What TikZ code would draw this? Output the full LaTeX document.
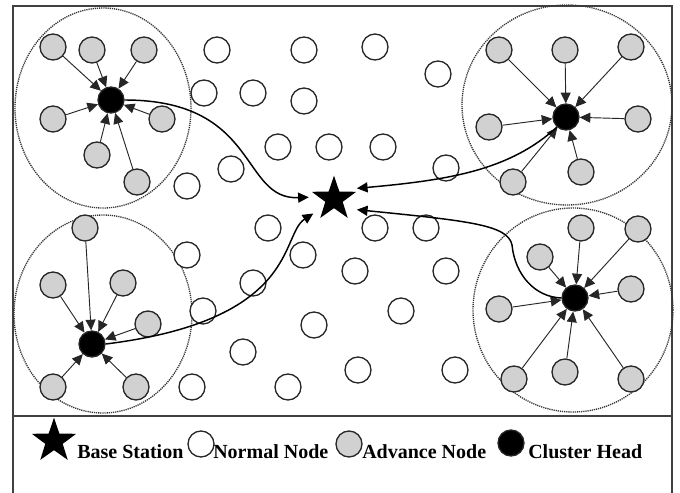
\documentclass[tikz,border=0pt]{standalone}
\usepackage{fontspec}
\setmainfont{Liberation Serif}
\usetikzlibrary{arrows.meta,shapes.geometric}
\begin{document}
\begin{tikzpicture}[x=0.75pt,y=-0.75pt,>={Triangle[length=8pt,width=7.5pt]},
  sensor/.style={circle,draw=black!85,line width=1pt,minimum size=19.5pt,inner sep=0},
  normal/.style={sensor,fill=white},
  advance/.style={sensor,fill=black!18},
  head/.style={sensor,fill=black},
  bsstar/.style={star,star points=5,star point ratio=2.55,fill=black,minimum size=35pt,inner sep=0},
  cluster/.style={dash pattern=on 0.9pt off 0.7pt,line width=1pt,black!80},
  spoke/.style={->,line width=0.7pt,black!85},
  link/.style={->,line width=1.1pt},
  legend/.style={anchor=base west,inner sep=0,font=\bfseries\fontsize{15}{18}\selectfont}]
  \useasboundingbox (0,0) rectangle (680,492);
  \draw[line width=1.2pt,black!75] (13,6) rectangle (672,500);
  \draw[line width=1.2pt,black!75] (13,416) -- (672,416);
  \draw[cluster] (103,108) ellipse [x radius=88,y radius=100];
  \draw[cluster] (567,105) ellipse [x radius=105,y radius=100];
  \draw[cluster] (103,314) ellipse [x radius=89,y radius=99];
  \draw[cluster] (573,310) ellipse [x radius=100,y radius=102];
  \foreach \x/\y [count=\i] in {217/50,304/50,375/47,438/74,204/93,253/93,304/101,278/147,
      329/147,383/147,231/169,187/186,446/168,268/228,375/228,426/228,187/255,303/255,
      355/271,446/271,253/283,203/311,401/311,314/325,243/352,358/370,455/370,192/387,288/387}
    \node[normal] (n\i) at (\x,\y) {};
  \node[circle,minimum size=37.5pt,inner sep=0] (bs) at (334,199) {};
  \node[bsstar] (bsicon) at (bs) {};
  \node[head] (ch1) at (111,100) {};
  \node[head] (ch2) at (566,117) {};
  \node[head] (ch3) at (92,344) {};
  \node[head] (ch4) at (575,298) {};
  \foreach \x/\y [count=\i] in {53/47,92/50,144/50,53/119,162/119,97/155,137/182}
    {\node[advance] (a1\i) at (\x,\y) {}; \draw[spoke] (a1\i) -- (ch1);}
  \foreach \x/\y [count=\i] in {499/50,565/50,631/47,489/127,638/119,513/182,581/172}
    {\node[advance] (a2\i) at (\x,\y) {}; \draw[spoke] (a2\i) -- (ch2);}
  \foreach \x/\y [count=\i] in {85/228,53/285,123/283,148/324,53/387,136/387}
    {\node[advance] (a3\i) at (\x,\y) {}; \draw[spoke] (a3\i) -- (ch3);}
  \foreach \x/\y [count=\i] in {581/228,638/229,540/257,631/289,499/309,514/379,565/372,631/379}
    {\node[advance] (a4\i) at (\x,\y) {}; \draw[spoke] (a4\i) -- (ch4);}
  \draw[link] (ch1.east) .. controls (260,100) and (240,200) .. (bs.176);
  \draw[link] (ch3.east) .. controls (300,320) and (280,235) .. (bs.215);
  \draw[link] (ch2.228) .. controls (510,170) and (450,180) .. (bs.25);
  \draw[link] (ch4.west) .. controls (535,297) and (515,275) .. (512,245)
    .. controls (508,225) and (470,221) .. (bs.335);
  \node[bsstar] (keybs) at (54,441) {};
  \node[legend] (keybstext) at (77,458) {Base Station};
  \node[normal] (keynormal) at (201,444) {};
  \node[legend] (keynormaltext) at (213,458) {Normal Node};
  \node[advance] (keyadvance) at (349,444) {};
  \node[legend] (keyadvancetext) at (362,458) {Advance Node};
  \node[head] (keyhead) at (511,443) {};
  \node[legend] (keyheadtext) at (528,458) {Cluster Head};
\end{tikzpicture}
\end{document}
